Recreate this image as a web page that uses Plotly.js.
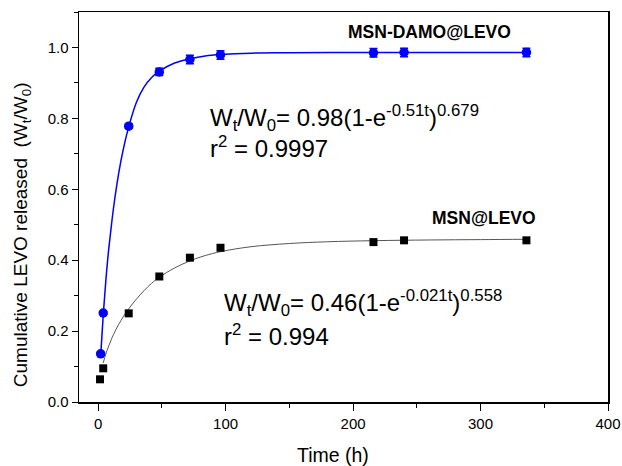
<!DOCTYPE html>
<html>
<head>
<meta charset="utf-8">
<script src="https://cdn.plot.ly/plotly-3.0.1.min.js"></script>
<style>
html,body{margin:0;padding:0;background:#fff;}
#chart{width:622px;height:466px;}
</style>
</head>
<body>
<div id="chart"></div>
<script>
// Measured data: MSN-DAMO@LEVO
const damoTime = [2, 4, 24, 48, 72, 96, 216, 240, 336];
const damoRelease = [0.136, 0.251, 0.778, 0.931, 0.966, 0.979, 0.985, 0.986, 0.986];
const damoError = [0.004, 0.004, 0.006, 0.010, 0.012, 0.012, 0.012, 0.012, 0.012];
// Measured data: MSN@LEVO
const msnTime = [1.5, 4, 24, 48, 72, 96, 216, 240, 336];
const msnRelease = [0.064, 0.095, 0.250, 0.354, 0.407, 0.435, 0.451, 0.456, 0.456];
// Fitted curves
const damoFitTime = [2, 4, 6, 8, 10, 12, 15, 18, 21, 24, 30, 36, 42, 48, 60, 72, 84, 96, 120, 150, 200, 250, 336];
const damoFitValue = [0.13, 0.245, 0.34, 0.42, 0.485, 0.545, 0.62, 0.682, 0.733, 0.776, 0.845, 0.888, 0.915, 0.933, 0.956, 0.968, 0.976, 0.980, 0.984, 0.985, 0.986, 0.986, 0.986];
const msnFitTime = [4, 6, 8, 12, 16, 20, 24, 30, 36, 42, 48, 60, 72, 84, 96, 120, 150, 180, 216, 260, 300, 336];
const msnFitValue = [0.11, 0.135, 0.155, 0.19, 0.218, 0.242, 0.263, 0.29, 0.314, 0.335, 0.352, 0.378, 0.398, 0.413, 0.424, 0.438, 0.447, 0.452, 0.455, 0.457, 0.458, 0.459];
// Axis ticks
const xTicks = [0, 100, 200, 300, 400];
const yTicks = [0.0, 0.2, 0.4, 0.6, 0.8, 1.0];

const FONT = 'Arial, "Liberation Sans", sans-serif';

const traces = [
  {x: damoFitTime, y: damoFitValue, mode: 'lines', type: 'scatter',
   line: {color: '#0000ff', width: 1.5, shape: 'spline'}, hoverinfo: 'skip', showlegend: false},
  {x: msnFitTime, y: msnFitValue, mode: 'lines', type: 'scatter',
   line: {color: '#555555', width: 1, shape: 'spline'}, hoverinfo: 'skip', showlegend: false},
  {x: damoTime, y: damoRelease, mode: 'markers', type: 'scatter', name: 'MSN-DAMO@LEVO',
   marker: {color: '#0000ff', size: 9.5, symbol: 'circle'},
   error_y: {type: 'data', array: damoError, visible: true, color: '#0000ff', thickness: 1.5, width: 4},
   showlegend: false},
  {x: msnTime, y: msnRelease, mode: 'markers', type: 'scatter', name: 'MSN@LEVO',
   marker: {color: '#000000', size: 8, symbol: 'square'}, showlegend: false}
];

const layout = {
  width: 622, height: 466,
  margin: {l: 79, r: 14, t: 12, b: 64},
  paper_bgcolor: '#ffffff', plot_bgcolor: '#ffffff',
  font: {family: FONT, color: '#000000'},
  xaxis: {
    range: [-15, 400], tickvals: xTicks, ticktext: xTicks.map(String),
    ticks: 'outside', ticklen: 7, tickwidth: 1, tickcolor: '#000',
    minor: {dtick: 50, ticks: 'outside', ticklen: 4, tickwidth: 1, tickcolor: '#000'},
    showline: true, linecolor: '#000', linewidth: 1.5, mirror: true,
    showgrid: false, zeroline: false,
    tickfont: {size: 15, family: FONT}
  },
  yaxis: {
    range: [0, 1.1], tickvals: yTicks, ticktext: yTicks.map(v => v.toFixed(1)),
    ticks: 'outside', ticklen: 6, tickwidth: 1, tickcolor: '#000',
    minor: {dtick: 0.1, ticks: 'outside', ticklen: 4, tickwidth: 1, tickcolor: '#000'},
    showline: true, linecolor: '#000', linewidth: 1.5, mirror: true,
    showgrid: false, zeroline: false,
    tickfont: {size: 15, family: FONT}
  },
  annotations: [
    // axis titles
    {x: 0.48, y: -0.135, xref: 'paper', yref: 'paper', text: 'Time (h)', showarrow: false,
     xanchor: 'center', yanchor: 'middle', font: {size: 19.5, family: FONT}},
    {x: -0.108, y: 0.43, xref: 'paper', yref: 'paper', textangle: -90,
     text: 'Cumulative LEVO released  (W<sub>t</sub>/W<sub>0</sub>)', showarrow: false,
     xanchor: 'center', yanchor: 'middle', font: {size: 19, family: FONT}},
    // series labels
    {x: 260, y: 1.045, xref: 'x', yref: 'y', text: '<b>MSN-DAMO@LEVO</b>', showarrow: false,
     xanchor: 'center', yanchor: 'middle', font: {size: 17.5, family: FONT}},
    {x: 303, y: 0.52, xref: 'x', yref: 'y', text: '<b>MSN@LEVO</b>', showarrow: false,
     xanchor: 'center', yanchor: 'middle', font: {size: 17.5, family: FONT}},
    // fit equations
    {x: 86, y: 0.80, xref: 'x', yref: 'y', text: 'W<sub>t</sub>/W<sub>0</sub>= 0.98(1-e<sup>-0.51t</sup>)<sup>0.679</sup>', showarrow: false,
     xanchor: 'left', yanchor: 'middle', font: {size: 24, family: FONT}},
    {x: 86, y: 0.72, xref: 'x', yref: 'y', text: 'r<sup>2</sup> = 0.9997', showarrow: false,
     xanchor: 'left', yanchor: 'middle', font: {size: 24, family: FONT}},
    {x: 97, y: 0.28, xref: 'x', yref: 'y', text: 'W<sub>t</sub>/W<sub>0</sub>= 0.46(1-e<sup>-0.021t</sup>)<sup>0.558</sup>', showarrow: false,
     xanchor: 'left', yanchor: 'middle', font: {size: 24, family: FONT}},
    {x: 97, y: 0.19, xref: 'x', yref: 'y', text: 'r<sup>2</sup> = 0.994', showarrow: false,
     xanchor: 'left', yanchor: 'middle', font: {size: 24, family: FONT}}
  ]
};

Plotly.newPlot('chart', traces, layout, {displayModeBar: false, staticPlot: true});
</script>
</body>
</html>
